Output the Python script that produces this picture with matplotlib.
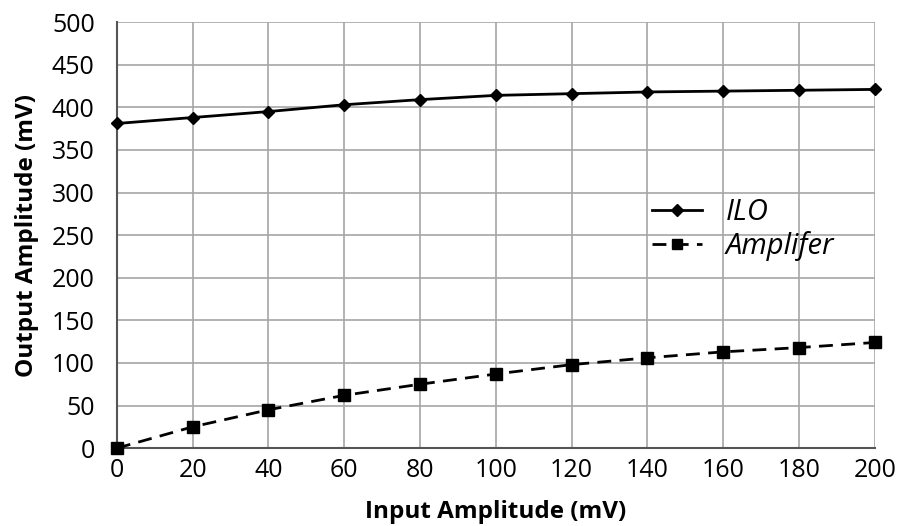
import matplotlib.pyplot as plt

plt.rcParams['font.family'] = ['Open Sans', 'DejaVu Sans']

# datos
entrada = [0, 20, 40, 60, 80, 100, 120, 140, 160, 180, 200]
ilo = [381, 388, 395, 403, 409, 414, 416, 418, 419, 420, 421]
amplificador = [0, 25, 45, 62, 75, 87, 98, 106, 113, 118, 124]

fig = plt.figure(figsize=(8.99, 5.26), dpi=100)
ax = fig.add_axes([0.130, 0.148, 0.843, 0.810])

ax.plot(entrada, ilo, color='black', linestyle='-', linewidth=2,
        marker='D', markersize=6.5, label='ILO', clip_on=False, zorder=3)
ax.plot(entrada, amplificador, color='black', linestyle=(0, (5, 3)), linewidth=2,
        marker='s', markersize=8, label='Amplifer', clip_on=False, zorder=3)

ax.set_xlim(0, 200)
ax.set_ylim(0, 500)
ax.set_xticks(range(0, 201, 20))
ax.set_yticks(range(0, 501, 50))
ax.grid(True, color='#a6a6a6', linewidth=1.2)
ax.set_axisbelow(True)
for s in ['top', 'right']:
    ax.spines[s].set_visible(False)
for s in ['left', 'bottom']:
    ax.spines[s].set_color('#555555')
    ax.spines[s].set_linewidth(1.5)
ax.tick_params(length=0, labelsize=18)
ax.tick_params(axis='y', pad=16)
ax.tick_params(axis='x', pad=7)

ax.set_xlabel('Input Amplitude (mV)', fontsize=17.5, fontweight='bold', labelpad=12)
ax.set_ylabel('Output Amplitude (mV)', fontsize=17.5, fontweight='bold', labelpad=9)

leg = ax.legend(loc='center left', bbox_to_anchor=(0.672, 0.513), frameon=False,
                fontsize=21, handlelength=1.7, labelspacing=0.15, handletextpad=0.8,
                markerscale=0.9)
for t in leg.get_texts():
    t.set_fontstyle('italic')

plt.savefig('out.png')
